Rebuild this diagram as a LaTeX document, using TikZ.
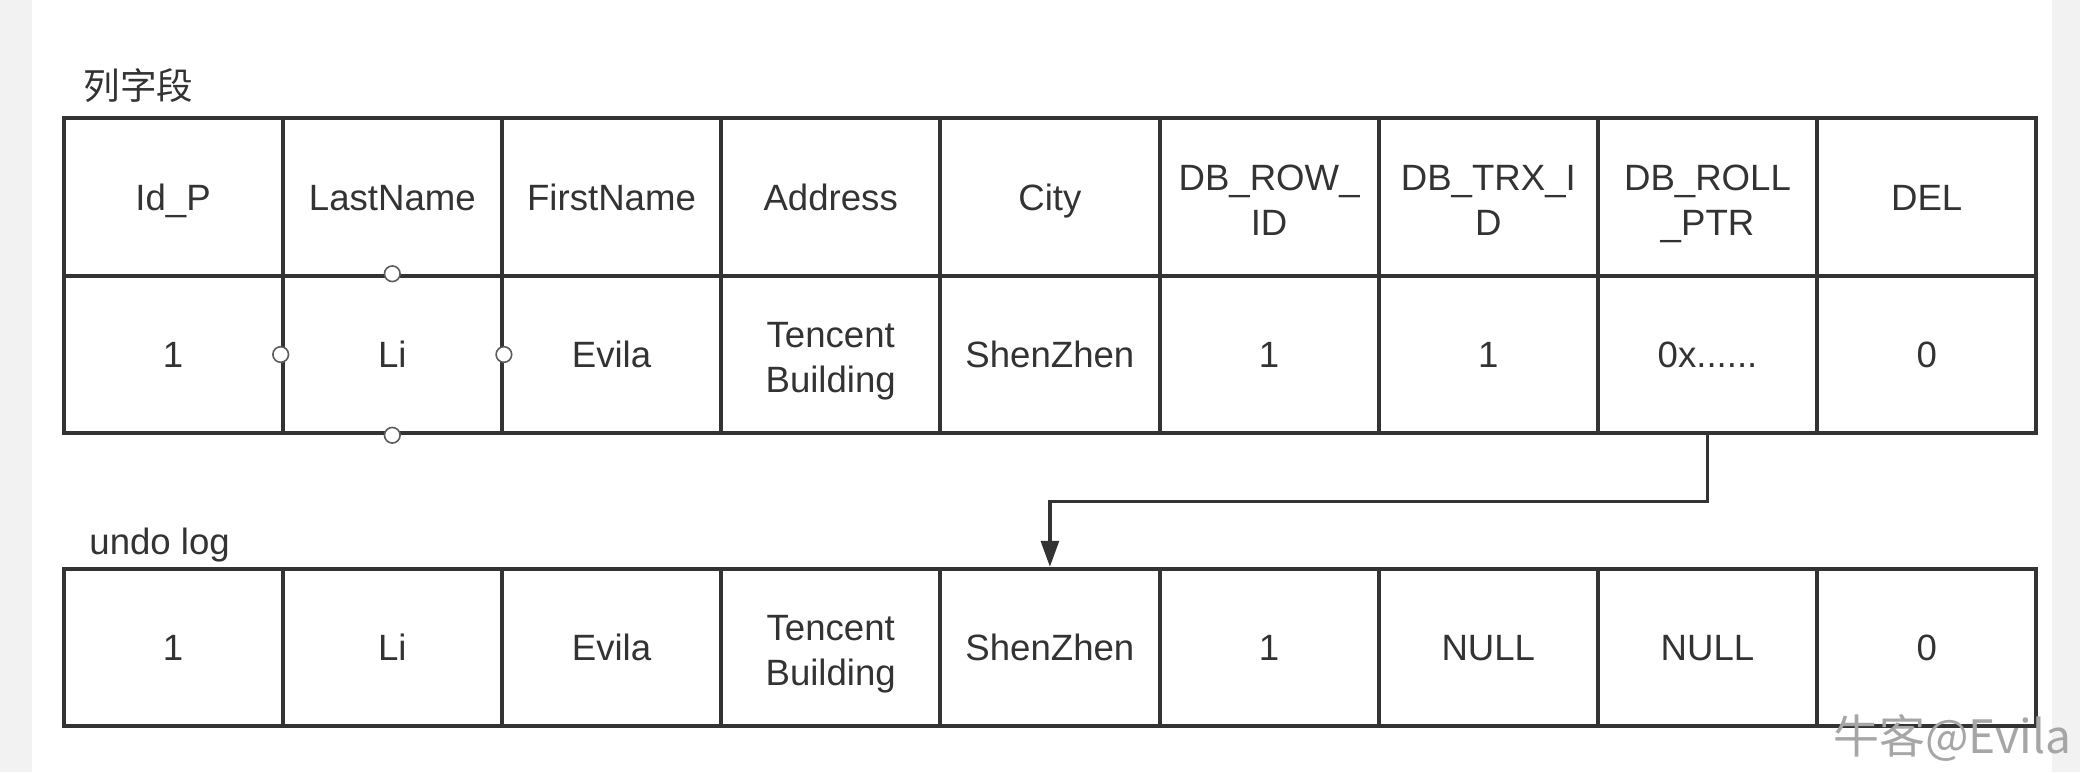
\documentclass[tikz,border=0pt]{standalone}
\usepackage{fontspec}
\setmainfont{Liberation Sans}
\newfontfamily\cjk{Noto Sans CJK SC}
\usetikzlibrary{arrows.meta}
\definecolor{ink}{HTML}{333333}
\definecolor{strip}{HTML}{F2F2F2}
\tikzset{
  cell/.style={draw=ink, line width=2pt, minimum width=109.6pt, minimum height=78.75pt,
    inner sep=0pt, align=center, text=ink, font=\fontsize{18.3}{22.5}\selectfont,
    text height=13.1pt, text depth=0pt},
  two/.style={text height=38.2pt, text depth=0pt},
  title/.style={inner sep=0pt, text=ink, font=\fontsize{18.3}{23}\selectfont},
  port/.style={circle, draw=ink!80, fill=white, line width=0.8pt, minimum size=7.8pt, inner sep=0pt},
  conn/.style={draw=ink, line width=1.6pt, -{Triangle[length=13pt,width=9pt]}},
  wmark/.style={inner sep=0pt, text=black!35, font=\fontsize{23}{26}\selectfont}
}
\newcommand{\ptrval}{0x......}
\newcommand{\cx}[1]{173.1+219.2*(#1-1)}
\begin{document}
\begin{tikzpicture}[x=0.5pt,y=-0.5pt]
\useasboundingbox (0,0) rectangle (2080,772);
\fill[white] (0,0) rectangle (2080,772);
\fill[strip] (0,0) rectangle (32,772);
\fill[strip] (2052,0) rectangle (2080,772);
% titles
\node[title, anchor=base west] (t1) at (83,99) {\cjk 列字段};
\node[title, anchor=base west] (t2) at (89,554) {undo log};
% header row
\foreach \t [count=\i] in {Id\_P, LastName, FirstName, Address, City}
  \node[cell] (h\i) at ({\cx{\i}},197) {\t};
\node[cell, two] (h6) at ({\cx{6}},197) {DB\_ROW\_\\ID};
\node[cell, two] (h7) at ({\cx{7}},197) {DB\_TRX\_I\\D};
\node[cell, two] (h8) at ({\cx{8}},197) {DB\_ROLL\\\_PTR};
\node[cell] (h9) at ({\cx{9}},197) {DEL};
% data row
\foreach \t [count=\i] in {1, Li, Evila}
  \node[cell] (r\i) at ({\cx{\i}},354.5) {\t};
\node[cell, two] (r4) at ({\cx{4}},354.5) {Tencent\\Building};
\foreach \t [count=\i from 5] in {ShenZhen, 1, 1, {\ptrval}, 0}
  \node[cell] (r\i) at ({\cx{\i}},354.5) {\t};
% undo log row
\foreach \t [count=\i] in {1, Li, Evila}
  \node[cell] (u\i) at ({\cx{\i}},647.5) {\t};
\node[cell, two] (u4) at ({\cx{4}},647.5) {Tencent\\Building};
\foreach \t [count=\i from 5] in {ShenZhen, 1, NULL, NULL, 0}
  \node[cell] (u\i) at ({\cx{\i}},647.5) {\t};
% connection points on the Li cell
\node[port] (pn) at (r2.north) {};
\node[port] (ps) at (r2.south) {};
\node[port] (pw) at (r2.west) {};
\node[port] (pe) at (r2.east) {};
% roll pointer arrow
\coordinate (bend) at (1049.9,501.5);
\draw[conn] (r8.south) |- (bend) -- (u5.north);
% watermark
\node[wmark, anchor=west] (wm) at (1833,738) {\cjk 牛客@Evila};
\end{tikzpicture}
\end{document}
